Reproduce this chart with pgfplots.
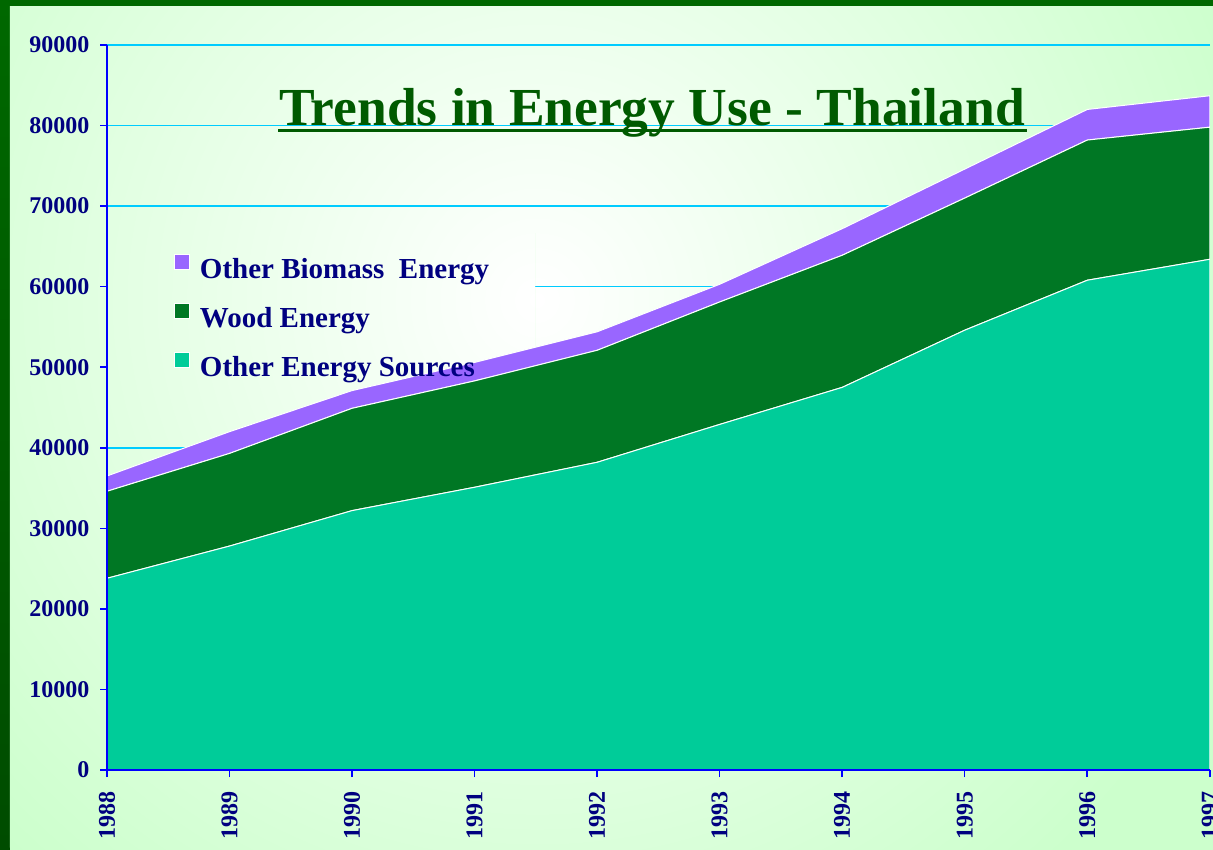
\documentclass[border=0pt]{standalone}
\usepackage{pgfplots}
\usepackage{pgfplotstable}
\pgfplotsset{compat=1.18}
\usepackage{fontspec}
\setmainfont{Liberation Serif}

\definecolor{frametop}{RGB}{0,104,0}
\definecolor{framebot}{RGB}{0,76,0}
\definecolor{bggreen}{RGB}{204,255,204}
\definecolor{othercol}{RGB}{0,204,153}
\definecolor{woodcol}{RGB}{0,119,36}
\definecolor{biocol}{RGB}{153,102,255}
\definecolor{navytext}{RGB}{0,0,128}
\definecolor{axisblue}{RGB}{0,0,255}
\definecolor{gridcyan}{RGB}{0,204,255}
\definecolor{titlegreen}{RGB}{0,90,0}

\pgfplotsset{
  frame/.style={
    at={(0,0)}, anchor=south west,
    scale only axis, width=1103bp, height=725bp,
    xmin=1988, xmax=1997, ymin=0, ymax=90000,
    scaled ticks=false,
  },
}

% stacked values
\pgfplotstableread{
year other wood bio
1988 23800 10800 1900
1989 27800 11500 2700
1990 32200 12700 2200
1991 35100 13200 2300
1992 38200 13900 2300
1993 42900 15200 2200
1994 47500 16400 3300
1995 54600 16400 3600
1996 60800 17400 3800
1997 63400 16400 3900
}\energy

\newcommand\slidebg{%
  \fill[bggreen] (-97bp,-80bp) rectangle (1106bp,763bp);
  \shade[inner color=white, outer color=bggreen] (430bp,470bp) circle[radius=760bp];
}

\begin{document}
\begin{tikzpicture}
% slide background
\shade[top color=frametop, bottom color=framebot] (-107bp,-80bp) rectangle (1106bp,770bp);
\begin{scope}
  \clip (-97bp,-80bp) rectangle (1106bp,763bp);
  \slidebg
\end{scope}

% grid only
\begin{axis}[frame,
  xtick=\empty, ytick={0,10000,...,90000}, yticklabels={},
  axis line style={draw=none}, tick style={draw=none},
  ymajorgrids, major grid style={gridcyan, line width=1.6bp},
]
\end{axis}

% the legend box hides the grid behind it
\begin{scope}
  \clip (-2bp,362bp) rectangle (428bp,536bp);
  \slidebg
\end{scope}

\begin{axis}[frame,
  axis on top,
  xtick={1988,...,1997}, ytick={0,10000,...,90000},
  axis x line*=bottom, axis y line*=left,
  axis line style={axisblue, line width=1.5bp},
  tick style={axisblue, line width=1.5bp},
  tick align=outside, major tick length=7bp,
  /pgf/number format/1000 sep={},
  /pgf/number format/assume math mode=true,
  tick label style={font=\fontsize{24bp}{27bp}\selectfont\bfseries, text=navytext},
  xticklabel style={rotate=90, anchor=east},
  xticklabel shift=11bp, yticklabel shift=7bp,
  stack plots=y,
  area style,
  reverse legend,
  legend cell align=left,
  legend image code/.code={\draw[#1,draw=white,line width=0.8bp] (0bp,0bp) rectangle (15bp,15bp);},
  legend style={draw=none, fill=none, at={(0.058,0.715)}, anchor=north west,
    font=\fontsize{29bp}{32bp}\selectfont\bfseries\color{navytext},
    row sep=21bp, /tikz/every odd column/.append style={column sep=8bp}},
]
\addplot[fill=othercol, draw=white, line width=1bp] table[x=year, y=other] {\energy} \closedcycle;
\addplot[fill=woodcol, draw=white, line width=1bp] table[x=year, y=wood] {\energy} \closedcycle;
\addplot[fill=biocol, draw=white, line width=1bp] table[x=year, y=bio] {\energy} \closedcycle;
\legend{Other Energy Sources, Wood Energy, Other Biomass~ Energy}
\end{axis}

% title
\node[anchor=base, font=\fontsize{53.5bp}{60bp}\selectfont\bfseries, text=titlegreen, inner sep=0pt]
  at (545bp,644bp) {Trends in Energy Use - Thailand};
\draw[titlegreen, line width=3bp] (171bp,639bp) -- (920bp,639bp);

\pgfresetboundingbox
\useasboundingbox (-107bp,-80bp) rectangle (1106bp,770bp);
\end{tikzpicture}
\end{document}
